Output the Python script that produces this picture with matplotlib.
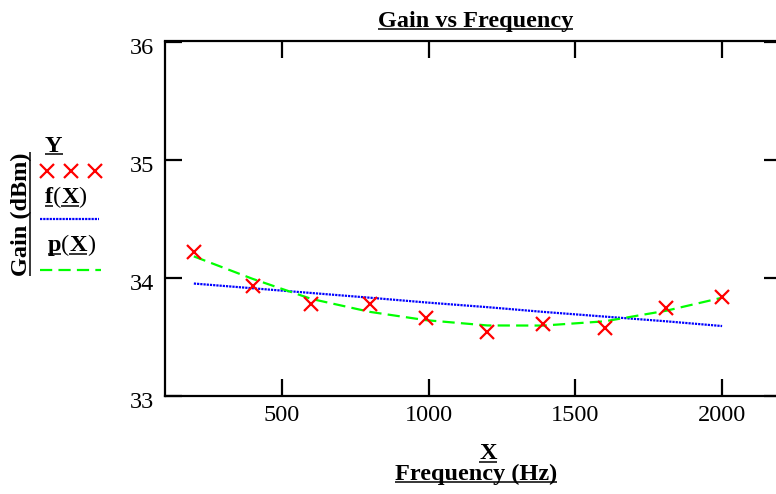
import matplotlib
matplotlib.use("Agg")
import matplotlib.pyplot as plt
from matplotlib.transforms import ScaledTranslation

plt.rcParams['font.family'] = ['Liberation Serif', 'DejaVu Serif']

# measured points (Y vs X)
freq = [200, 400, 600, 800, 990, 1200, 1390, 1600, 1810, 2000]
gain = [34.22, 33.93, 33.78, 33.78, 33.66, 33.54, 33.61, 33.57, 33.74, 33.84]
# f(X): linear fit, p(X): quadratic fit at each X
fit_lin = [33.95, 33.91, 33.87, 33.83, 33.79, 33.75, 33.71, 33.67, 33.63, 33.59]
fit_quad = [34.18, 33.99, 33.82, 33.71, 33.64, 33.595, 33.594, 33.63, 33.72, 33.83]

xticks = [500, 1000, 1500, 2000]
yticks = [33, 34, 35, 36]

W, H = 776, 494
FS = 17.5
RED, BLUE, GREEN = '#ff0000', '#0000ff', '#00ff00'
lin_style = (0, (1, 0.45))
quad_style = (0, (5.5, 2.8))

fig = plt.figure(figsize=(W / 100, H / 100), dpi=100)

# plot box: right spine falls just outside the picture
L, R, T, B = 164.5, 780.8, 41.5, 395.7
ax = fig.add_axes([L / W, (H - B) / H, (R - L) / W, (B - T) / H])
ax.plot(freq, fit_lin, color=BLUE, lw=1.6, ls=lin_style)
ax.plot(freq, fit_quad, color=GREEN, lw=1.6, ls=quad_style)
ax.plot(freq, gain, ls='none', marker='x', color=RED, ms=9.5, mew=1.6)
ax.set_xlim(100, 2200)
ax.set_ylim(33, 36)
ax.set_xticks(xticks)
ax.set_yticks(yticks)
ax.tick_params(direction='in', length=12, width=1.6, top=True, right=True,
               labelsize=FS, colors='black')
ax.tick_params(axis='y', pad=7.5)
ax.tick_params(axis='x', pad=7)
for s in ax.spines.values():
    s.set_linewidth(1.6)
# Mathcad sets the y numbers a little below their ticks
shift = ScaledTranslation(0, -3 / 72, fig.dpi_scale_trans)
for lab in ax.get_yticklabels():
    lab.set_transform(lab.get_transform() + shift)

# overlay in pixel coords for titles / legend
lay = fig.add_axes([0, 0, 1, 1])
lay.set_xlim(0, W)
lay.set_ylim(H, 0)
lay.axis('off')

fig.canvas.draw()
rend = fig.canvas.get_renderer()


def underline(x0, x1, y):
    lay.plot([x0, x1], [y, y], color='black', lw=1.1, solid_capstyle='butt')


def utext(x, y, s, ha='center'):
    t = lay.text(x, y, s, ha=ha, va='baseline', weight='bold', size=FS)
    bb = t.get_window_extent(rend)
    underline(bb.x0, bb.x1, y + 2.5)
    return t


def parts_text(x, y, parts):
    for s, bold, ul in parts:
        t = lay.text(x, y, s, ha='left', va='baseline', size=FS,
                     weight='bold' if bold else 'normal')
        bb = t.get_window_extent(rend)
        if ul:
            underline(bb.x0, bb.x1, y + 2.5)
        x += bb.width


utext(475.5, 27, 'Gain vs Frequency')
utext(488, 459, 'X')
utext(476, 479.5, 'Frequency (Hz)')

# rotated y label with underline on its baseline side
yl = lay.text(27, 214, 'Gain (dBm)', rotation=90, rotation_mode='anchor',
              ha='center', va='baseline', weight='bold', size=FS)
bb = yl.get_window_extent(rend)
lay.plot([30, 30], [H - bb.y0, H - bb.y1], color='black', lw=1.1,
         solid_capstyle='butt')

# legend
utext(45, 151.7, 'Y', ha='left')
lay.plot([47.3, 70.7, 95], [170.7] * 3, ls='none', marker='x', color=RED,
         ms=9.5, mew=1.6)
parts_text(45, 203.3, [('f', True, True), ('(', False, False),
                       ('X', True, True), (')', False, False)])
lay.plot([40, 99.3], [219.3, 219.3], color=BLUE, lw=1.6, ls=lin_style)
parts_text(47.7, 251, [('p', True, True), ('(', False, False),
                       ('X', True, True), (')', False, False)])
lay.plot([40, 101], [270, 270], color=GREEN, lw=1.6, ls=quad_style)

fig.savefig('out.png', dpi=100)
